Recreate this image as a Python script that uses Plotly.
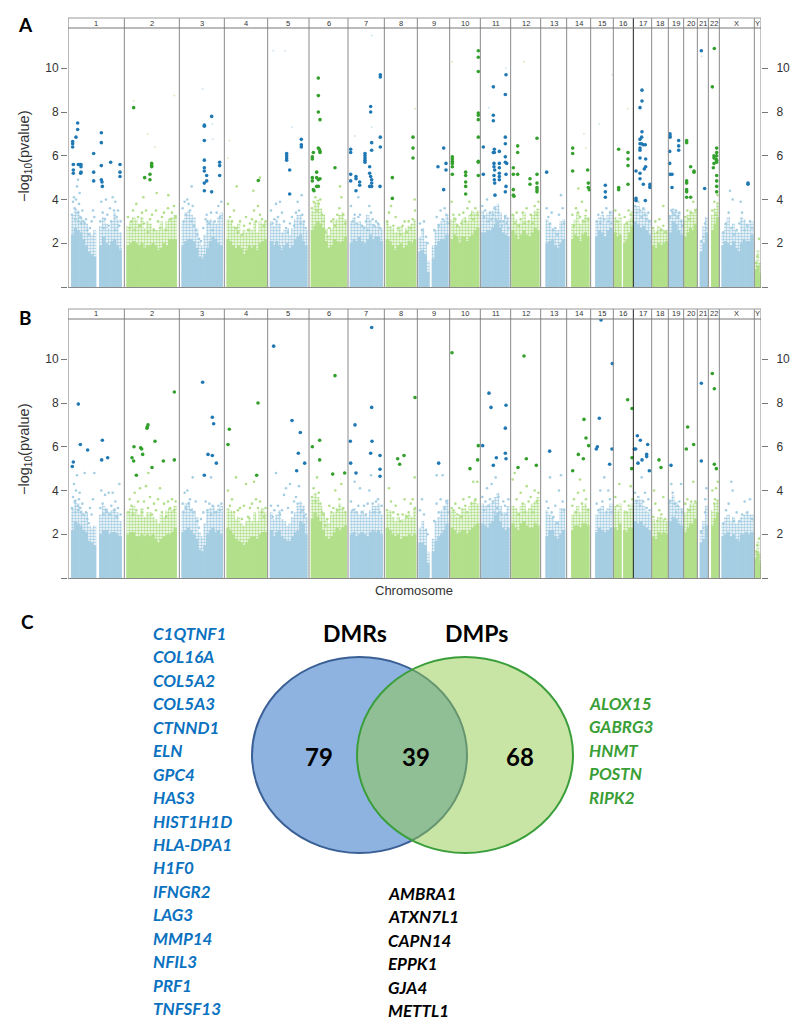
import plotly.graph_objects as go

W, H = 800, 1035
chrom_labels = ["1","2","3","4","5","6","7","8","9","10","11","12","13","14","15","16","17","18","19","20","21","22","X","Y"]
chrom_edges = [204,373,538,673,803,927,1044,1153,1252,1349,1441,1532,1622,1700,1772,1840,1900,1955,2005,2051,2092,2125,2158,2263,2283]
y_ticks = [2,4,6,8,10]

# body segments of the Manhattan columns: colour group, start, end
seg_group = ["b","b","g","b","g","b","g","b","g","b","b","g","b","g","b","g","b","g","g","b","g","b","g","b","g","b","g"]
seg_start = [214,298,380,545,680,810,933,1050,1158,1256,1296,1352,1444,1535,1637,1714,1786,1842,1870,1902,1957,2007,2053,2100,2134,2165,2265]
seg_end   = [288,365,530,668,800,922,1040,1148,1248,1288,1345,1437,1528,1618,1695,1768,1837,1864,1900,1952,2003,2049,2090,2123,2156,2260,2283]

A_heights = [
 [2.4,2.7,2.6,2.5,2.2,1.9,1.6,1.5,1.4],[1.9,2.3,2.0,1.9,2.1,2.2,1.9,1.7],
 [1.9,2.0,2.1,2.0,1.9,2.0,1.8,1.9,1.9,2.0,1.9,1.7,1.8,2.0,1.9,2.2,2.2,2.2],
 [1.9,2.1,2.2,2.2,2.1,1.8,1.4,1.3,1.5,1.8,2.1,2.3,2.2,2.0,1.9],
 [2.2,2.1,1.9,1.8,1.9,1.8,1.5,1.7,1.9,1.8,1.9,1.7,2.0,2.1,2.2],
 [2.1,1.9,2.1,1.9,1.7,1.9,2.0,1.8,1.9,2.2,2.3,2.4,2.1,1.9],
 [2.6,2.8,3.0,2.9,2.7,2.1,1.8,1.9,2.2,2.1,2.0,2.1,2.3],
 [2.0,2.2,2.1,2.3,2.1,2.0,2.2,2.4,2.2,2.3,2.3,2.1],
 [2.2,2.1,1.9,1.7,1.9,2.0,1.8,1.9,2.1,2.0,2.2],
 [1.6,1.7,1.5,0.7],[1.3,1.9,2.1,2.2,2.2,2.4],
 [2.2,2.4,2.3,2.0,2.3,2.3,2.1,2.3,2.4,2.6,2.7],
 [2.5,2.5,2.6,2.6,2.7,2.9,3.0,2.7,2.5,2.4,2.3],
 [2.6,2.4,2.2,2.4,2.6,2.4,2.3,2.5,2.7,2.6],
 [2.0,2.1,2.2,1.9,1.8,2.0,2.2],[2.2,2.4,2.3,2.1,2.4,2.5,2.3],
 [2.3,2.6,2.5,2.3,2.6,2.7],[2.5,2.3,2.4],[2.0,2.2,2.5,2.8],
 [3.0,2.9,2.7,2.8,2.6,2.4],[1.9,1.8,2.0,1.9,2.0,2.1],[2.5,3.0,2.9,2.6,2.4],
 [2.3,2.5,2.7,2.6,2.9],[1.6,2.0,2.5],[2.6,2.9,3.2],
 [1.9,2.1,2.0,1.9,2.1,1.8,1.6,2.0,2.2,2.1,2.1,2.4],[0.8,1.0,0.6]]
B_heights = [
 [2.2,2.6,2.5,2.4,2.2,2.1,1.7,1.6,1.5],[2.0,2.2,2.2,2.0,2.1,2.1,2.0,1.9],
 [2.0,2.1,2.1,1.9,1.9,2.0,1.9,2.0,1.9,2.0,1.8,1.6,1.8,1.9,2.0,2.0,2.1,2.3],
 [2.1,2.2,2.3,2.2,2.0,1.8,1.3,1.2,1.5,2.0,2.2,2.3,2.1,2.2,2.0],
 [2.3,2.2,2.0,1.8,1.7,1.6,1.5,1.6,1.8,1.9,1.9,1.8,2.0,2.1,2.1],
 [2.2,1.9,2.1,2.2,1.9,1.8,1.7,1.7,1.9,2.1,2.2,2.6,2.5,2.0],
 [2.7,3.0,2.8,2.6,2.2,1.9,1.8,1.9,2.1,2.3,2.2,2.3,2.4],
 [2.0,2.1,1.9,2.0,2.1,2.0,1.9,2.1,2.2,2.1,2.2,2.0],
 [2.3,2.2,2.0,1.9,2.0,1.8,1.9,1.9,2.0,1.9,2.0],
 [1.6,1.6,1.5,0.7],[1.2,1.7,1.9,2.0,2.2,2.5],
 [2.3,2.2,2.0,2.1,2.2,2.2,2.0,2.2,2.3,2.4,2.5],
 [2.5,2.4,2.3,2.5,2.6,2.9,3.0,2.6,2.3,2.2,2.3],
 [2.5,2.3,2.2,2.5,2.6,2.4,2.3,2.3,2.5,2.4],
 [1.9,2.2,2.2,1.9,1.8,2.0,2.2],[2.2,2.4,2.4,2.3,2.5,2.5,2.4],
 [2.1,2.3,2.2,2.1,2.2,2.3],[2.3,2.2,2.5],[2.2,2.1,2.3,2.3],
 [2.6,2.5,2.6,2.4,2.3,2.2],[1.9,1.8,2.1,2.0,2.1,2.0],[2.6,2.8,2.7,2.5,2.4],
 [2.1,2.3,2.5,2.5,2.7],[1.6,1.8,2.4],[2.4,2.7,3.0],
 [1.9,2.0,2.1,1.9,2.0,1.8,1.7,2.0,2.0,2.1,2.0,2.1],[0.9,1.2,0.7]]

# top of the dense speckled band that sits on each body
A_band = [
 [3.3,3.6,3.5,3.2,3.0,2.9,2.5,2.4,2.6],[2.8,3.2,2.9,2.7,3.0,3.4,3.1,2.5],
 [2.8,3.0,3.2,3.1,2.9,3.2,2.7,3.0,2.9,2.7,2.6,2.6,3.0,2.7,3.0,3.1,3.2,3.3],
 [3.0,3.4,3.5,3.3,3.2,2.7,2.1,1.9,2.4,3.0,3.1,3.0,2.9,3.2,3.4],
 [3.1,3.0,2.8,2.7,2.9,2.4,2.6,2.5,2.7,2.6,3.0,2.5,3.0,2.9,3.0],
 [3.0,2.8,3.1,2.9,2.5,2.6,2.7,2.4,2.7,3.1,3.3,3.3,3.0,2.6],
 [3.5,3.9,4.0,3.6,3.3,2.7,2.4,2.7,3.0,3.1,3.3,3.4,3.1],
 [3.0,3.2,2.9,3.0,2.8,2.8,3.3,3.1,2.9,2.8,2.9,2.7],
 [3.0,2.8,2.7,2.5,2.7,2.8,2.5,2.7,2.8,2.9,3.1],
 [2.3,2.7,2.1,1.2],[1.9,2.6,2.9,3.0,3.1,3.3],
 [3.1,3.2,2.9,2.8,3.1,3.2,3.0,3.3,3.5,3.4,3.5],
 [3.5,3.3,3.4,3.4,3.5,3.7,3.8,3.4,3.0,3.3,3.2],
 [3.3,3.1,2.9,3.0,3.4,3.0,3.0,3.3,3.5,3.6],
 [3.1,2.9,2.7,2.6,2.6,3.0,3.1],[2.9,3.1,3.4,2.9,3.1,3.3,3.2],
 [3.0,3.2,3.3,3.0,3.3,3.5],[3.2,3.0,3.2],[2.9,3.0,3.1,3.5],
 [3.7,3.7,3.5,3.6,3.4,3.1],[2.6,2.5,2.8,2.7,2.6,2.6],[3.3,3.6,3.5,3.4,3.1],
 [3.1,3.3,3.5,3.4,3.6],[2.1,2.8,3.2],[3.3,3.6,3.9],
 [2.5,2.9,3.2,2.6,2.9,2.6,2.5,3.2,3.1,2.9,2.9,3.0],[1.2,1.7,1.1]]
B_band = [
 [3.2,3.6,3.4,3.1,2.9,3.0,2.4,2.3,2.4],[2.9,3.3,3.2,3.0,3.1,3.2,3.0,2.6],
 [3.0,3.2,3.3,3.0,2.9,3.2,2.8,3.0,3.0,2.8,2.7,2.5,2.9,2.8,3.1,3.2,3.1,3.3],
 [3.1,3.4,3.5,3.2,3.1,2.8,2.1,1.9,2.5,3.1,3.2,3.3,3.1,3.2,3.3],
 [3.2,3.1,2.9,2.7,2.8,2.5,2.4,2.6,2.8,2.6,3.0,2.6,3.1,3.2,3.0],
 [3.0,2.7,2.9,3.1,2.7,2.6,2.4,2.5,2.8,3.0,3.3,3.5,3.3,2.8],
 [3.6,3.9,3.7,3.3,3.0,2.7,2.5,2.9,3.0,3.2,3.4,3.2,3.0],
 [3.1,3.2,3.0,2.9,3.1,2.9,2.8,3.1,3.3,3.3,3.4,2.9],
 [3.0,3.1,2.8,2.6,2.8,2.6,2.7,2.9,2.9,2.8,3.2],
 [2.3,2.6,2.2,1.2],[1.8,2.6,2.8,3.1,3.3,3.6],
 [3.1,3.1,2.8,2.9,3.2,3.2,2.9,3.3,3.5,3.6,3.4],
 [3.4,3.3,3.3,3.4,3.5,3.7,3.9,3.3,3.0,3.0,3.3],
 [3.3,3.2,3.0,3.3,3.4,3.1,3.2,3.4,3.5,3.7],
 [3.1,2.9,2.8,2.6,2.6,3.2,3.2],[2.9,3.1,3.3,3.0,3.3,3.4,3.2],
 [2.9,3.2,3.3,3.0,3.2,3.4],[3.3,3.1,3.4],[3.1,3.0,3.2,3.4],
 [3.6,3.6,3.6,3.3,3.1,3.0],[2.7,2.5,2.8,2.8,2.7,2.6],[3.6,3.8,3.5,3.3,3.2],
 [3.0,3.2,3.4,3.4,3.5],[2.2,2.6,3.3],[3.1,3.4,3.6],
 [2.5,2.8,2.9,2.6,2.8,2.5,2.6,2.8,2.9,3.0,2.9,2.9],[1.3,1.7,1.1]]

# scattered pale points above the body
A_pale_blue = [(216,3.3),(219,3.9),(222,4.1),(224,3.6),(226,3.1),(228,4.0),(231,4.6),(233,3.4),(235,3.0),(237,3.8),(239,4.3),(241,3.2),(243,2.9),(247,3.5),(250,3.0),(254,2.9),(258,3.1),(262,2.6),(266,2.4),(270,2.7),(275,3.0),(279,3.5),(283,3.2),(234,4.9),
(301,3.0),(304,3.9),(308,3.4),(311,2.7),(315,3.1),(318,4.0),(322,3.3),(326,2.8),(330,3.6),(334,3.0),(338,4.1),(342,3.5),(346,3.9),(350,3.2),(354,3.5),(358,2.8),(362,3.0),(345,2.6),
(548,3.6),(551,3.0),(554,3.9),(558,3.3),(562,4.0),(566,3.8),(570,3.5),(574,3.0),(578,3.7),(582,2.8),(587,2.6),(592,2.4),(597,2.2),(603,2.1),(610,2.7),(617,3.1),(622,3.0),(628,2.9),(633,3.4),(638,2.6),(644,3.0),(650,3.4),(655,3.7),(660,3.2),(664,3.9),(575,4.6),(620,3.3),
(813,3.5),(818,2.9),(823,3.1),(828,3.8),(834,3.2),(840,3.9),(846,3.4),(852,3.0),(858,2.7),(864,2.5),(870,2.9),(876,3.2),(882,2.8),(888,3.4),(893,3.9),(897,3.5),(902,2.9),(907,3.3),(912,3.0),(917,2.7),(905,4.2),
(1053,3.7),(1058,3.0),(1064,3.3),(1070,2.9),(1075,3.2),(1080,3.3),(1086,2.8),(1092,2.7),(1098,3.0),(1103,2.6),(1108,3.7),(1113,3.4),(1118,3.1),(1123,2.8),(1128,3.0),(1134,2.9),(1140,2.7),(1075,4.1),
(1260,2.9),(1266,2.6),(1272,3.0),(1278,2.3),(1283,2.0),(1303,2.6),(1310,3.2),(1316,2.8),(1322,3.5),(1328,3.1),(1334,3.6),(1339,3.3),(1343,2.9),
(1447,3.7),(1452,3.2),(1456,3.5),(1461,4.0),(1465,3.0),(1470,3.4),(1475,3.1),(1479,3.3),(1483,3.6),(1487,3.1),(1491,3.0),(1495,3.4),(1500,3.0),(1505,2.8),(1510,3.0),(1515,3.2),(1520,2.9),(1525,2.7),
(1640,3.6),(1645,3.2),(1650,2.9),(1655,3.4),(1660,2.6),(1666,2.7),(1672,2.4),(1677,3.3),(1683,4.2),(1688,3.6),(1692,2.9),
(1790,3.0),(1795,3.3),(1801,2.9),(1807,3.4),(1813,3.1),(1819,3.6),(1825,3.0),(1830,3.4),(1834,2.9),
(1905,3.7),(1910,3.4),(1915,3.9),(1920,3.5),(1925,3.2),(1930,3.6),(1935,3.3),(1940,3.1),(1945,3.4),(1949,3.0),
(2010,3.2),(2014,3.5),(2018,3.4),(2023,3.3),(2028,3.5),(2033,3.2),(2038,3.4),(2043,3.0),(2046,2.8),
(2104,2.1),(2110,2.3),(2115,2.9),(2119,2.7),
(2170,2.5),(2178,2.9),(2186,3.4),(2194,2.7),(2202,2.4),(2210,2.6),(2218,2.9),(2226,3.4),(2234,2.6),(2242,2.8),(2250,3.0),(2256,2.7),(2190,4.4),(2198,4.0),(2222,3.9)]
A_pale_green = [(384,3.2),(389,2.7),(394,3.0),(399,3.5),(404,2.6),(409,3.8),(414,3.2),(420,2.8),(426,3.4),(432,2.9),(438,3.5),(444,2.5),(450,3.1),(456,3.3),(462,2.6),(468,3.5),(474,3.0),(480,2.7),(486,3.2),(492,3.4),(498,2.6),(504,3.6),(510,3.1),(516,3.4),(522,3.7),(527,3.2),(430,4.1),(470,4.3),(505,4.2),
(684,3.8),(690,3.2),(696,3.0),(702,3.5),(708,2.7),(714,2.5),(720,3.0),(726,2.4),(732,2.8),(738,3.2),(744,2.6),(750,2.9),(756,3.1),(762,3.5),(768,3.0),(774,3.7),(780,3.3),(786,3.1),(792,2.8),(797,3.0),(710,4.6),(760,4.4),(780,5.0),
(936,3.6),(941,3.9),(946,4.1),(951,3.5),(956,3.8),(961,4.0),(966,3.3),(971,3.0),(976,2.5),(982,2.3),(988,2.7),(994,3.0),(1000,3.1),(1006,2.8),(1012,3.3),(1018,3.6),(1024,4.1),(1030,3.3),(1036,2.9),(1020,4.6),
(1161,3.0),(1167,3.4),(1173,3.7),(1180,2.8),(1187,3.2),(1194,2.7),(1201,2.4),(1208,2.8),(1214,3.0),(1220,2.5),(1226,3.0),(1232,2.7),(1238,3.1),(1244,4.0),(1245,3.5),
(1355,3.9),(1360,3.3),(1366,3.1),(1372,2.8),(1378,3.3),(1384,2.9),(1390,3.4),(1396,3.0),(1402,3.6),(1408,3.9),(1414,3.3),(1420,3.1),(1426,3.6),(1432,3.3),
(1538,3.3),(1544,2.9),(1550,3.4),(1556,2.8),(1562,3.1),(1568,3.4),(1574,2.9),(1580,3.6),(1586,3.0),(1592,3.3),(1598,2.9),(1604,3.7),(1610,3.3),(1615,3.9),
(1717,3.3),(1722,2.8),(1728,3.6),(1734,3.4),(1740,3.2),(1746,3.9),(1752,3.0),(1758,3.5),(1764,3.1),(1735,4.5),
(1846,3.5),(1852,3.0),(1858,3.3),(1874,3.2),(1880,2.9),(1886,3.5),(1892,3.3),(1897,3.0),
(1960,2.7),(1966,3.0),(1972,2.5),(1978,3.1),(1984,2.6),(1990,2.8),(1996,2.5),(1990,3.7),
(2056,3.2),(2062,3.5),(2068,3.1),(2074,3.4),(2080,3.9),(2086,3.5),
(2137,3.5),(2143,3.9),(2148,3.3),(2153,4.2),(2272,1.4),(2277,2.2),(2269,1.1)]
B_pale_blue = [(216,3.2),(219,3.7),(222,4.3),(224,3.5),(226,3.0),(228,4.0),(231,4.7),(233,3.3),(235,3.1),(237,3.6),(239,3.9),(241,3.2),(243,3.0),(247,3.4),(250,2.9),(254,4.8),(258,3.0),(262,2.7),(266,2.5),(270,3.2),(275,2.9),(279,3.6),(283,4.8),
(301,3.2),(304,4.0),(308,3.4),(311,2.9),(315,3.8),(318,3.1),(322,3.0),(326,3.9),(330,2.9),(334,3.3),(338,3.9),(342,3.1),(346,3.5),(350,2.8),(354,3.2),(358,4.3),(362,2.9),
(548,3.4),(551,3.0),(554,3.9),(558,3.2),(562,4.0),(566,3.4),(570,3.6),(574,3.1),(578,4.6),(582,3.0),(587,3.5),(592,2.6),(597,2.3),(603,2.7),(610,3.0),(617,3.5),(622,3.1),(628,3.4),(633,2.9),(638,3.3),(644,3.0),(650,3.0),(655,3.3),(660,3.1),(664,3.4),(633,4.6),
(813,3.3),(818,2.8),(823,3.1),(828,4.8),(834,3.3),(840,2.9),(846,3.1),(852,3.8),(858,4.1),(864,3.2),(870,4.3),(876,3.0),(882,3.5),(888,3.7),(893,3.4),(897,4.2),(902,3.0),(907,3.1),(912,2.8),(917,2.9),
(1053,3.5),(1058,3.1),(1064,4.4),(1070,3.0),(1075,3.3),(1080,4.1),(1086,3.0),(1092,3.3),(1098,2.9),(1103,3.4),(1108,4.0),(1113,4.7),(1118,3.4),(1123,3.0),(1128,3.5),(1134,3.6),(1140,3.0),(1145,3.3),
(1260,3.1),(1266,3.6),(1272,2.9),(1278,2.2),(1283,2.0),(1303,2.6),(1310,3.4),(1316,3.0),(1322,3.6),(1328,4.7),(1334,3.2),(1339,3.5),(1343,3.0),(1310,4.7),
(1447,3.7),(1452,3.1),(1456,3.5),(1461,4.1),(1465,3.3),(1470,3.6),(1475,4.3),(1479,3.5),(1483,3.0),(1487,4.6),(1491,3.2),(1495,3.7),(1500,3.0),(1505,2.9),(1510,3.5),(1515,3.3),(1520,2.9),(1525,3.6),
(1640,3.5),(1645,3.2),(1650,4.6),(1655,3.0),(1660,2.8),(1666,3.3),(1672,2.5),(1677,4.0),(1683,4.7),(1688,3.5),(1692,3.1),
(1790,3.4),(1795,3.1),(1801,4.0),(1807,3.5),(1813,4.6),(1819,3.0),(1825,4.0),(1830,3.6),(1834,3.0),
(1905,3.9),(1910,3.5),(1915,3.7),(1920,3.3),(1925,4.6),(1930,3.5),(1935,3.9),(1940,3.2),(1945,3.6),(1949,3.1),
(2010,3.5),(2014,4.3),(2018,3.9),(2023,3.4),(2028,3.0),(2033,3.3),(2038,3.5),(2043,4.3),(2046,3.0),
(2104,2.1),(2110,2.3),(2115,3.0),(2119,4.1),(2116,3.6),
(2170,2.5),(2178,3.1),(2186,3.4),(2194,4.4),(2198,4.0),(2202,2.6),(2210,3.0),(2218,2.6),(2226,2.9),(2234,3.5),(2242,3.0),(2250,3.6),(2256,2.7)]
B_pale_green = [(384,3.0),(389,3.6),(394,3.3),(399,2.9),(404,3.9),(409,3.1),(414,3.5),(420,4.1),(426,3.0),(432,3.5),(438,4.2),(444,3.2),(450,3.7),(456,2.9),(462,3.4),(468,3.1),(474,3.6),(480,4.1),(486,3.0),(492,3.4),(498,2.8),(504,3.5),(510,3.2),(516,3.6),(522,3.1),(527,3.5),(445,4.8),
(684,4.0),(690,3.3),(696,3.6),(702,3.0),(708,4.6),(714,3.1),(720,3.2),(726,2.7),(732,3.3),(738,4.3),(744,2.8),(750,3.2),(756,3.4),(762,4.4),(768,3.6),(774,3.2),(780,3.5),(786,3.0),(792,2.8),(797,3.2),
(936,3.7),(941,4.1),(946,3.5),(951,4.6),(956,3.9),(961,3.4),(966,3.0),(971,2.9),(976,2.4),(982,2.7),(988,3.3),(994,3.0),(1000,3.2),(1006,4.0),(1012,3.1),(1018,3.6),(1024,4.3),(1030,3.2),(1036,3.0),
(1161,3.1),(1167,4.1),(1173,3.5),(1180,3.0),(1187,3.3),(1194,2.9),(1201,2.6),(1208,2.9),(1214,3.6),(1220,2.8),(1226,3.0),(1232,3.4),(1238,3.6),(1244,4.6),(1245,3.2),
(1355,3.2),(1360,3.1),(1366,3.4),(1372,2.9),(1378,3.2),(1384,2.8),(1390,3.6),(1396,3.3),(1402,3.0),(1408,3.7),(1414,3.4),(1420,4.4),(1426,3.6),(1432,4.4),
(1538,4.5),(1544,4.8),(1550,3.6),(1556,2.9),(1562,3.9),(1568,3.4),(1574,3.0),(1580,4.2),(1586,3.5),(1592,3.7),(1598,3.0),(1604,4.0),(1610,3.5),(1615,3.9),
(1717,3.3),(1722,3.6),(1728,3.0),(1734,3.9),(1740,4.5),(1746,3.4),(1752,4.0),(1758,3.6),(1764,3.1),
(1846,3.7),(1852,3.3),(1858,4.3),(1874,3.5),(1880,3.0),(1886,3.3),(1892,4.2),(1897,3.6),
(1960,2.8),(1966,3.4),(1972,2.6),(1978,3.1),(1984,2.9),(1990,3.7),(1996,2.7),(1962,4.0),
(2056,3.4),(2062,3.6),(2068,3.1),(2074,3.5),(2080,4.4),(2086,3.5),
(2137,4.0),(2143,3.4),(2148,4.1),(2153,4.4),(2145,3.6),(2272,1.5),(2277,1.8),(2269,1.2)]

# the hits of panel B also show very faintly in panel A
A_faint_blue = [(820,10.8),(855,10.8),(608,9.05),(637,7.45),(638,6.75),(876,7.3),(1115,11.5),(1115,7.3),(1065,6.9),(1467,8.2),(1518,10.0),(1837,9.7),(1798,7.45),(2105,10.55)]
A_faint_green = [(401,8.5),(523,8.75),(443,7.0),(465,6.4),(688,6.7),(684,5.9),(1245,8.15),(1356,10.3),(1572,10.3),(1752,7.0),(1758,6.35),(1883,8.15)]

A_hit_blue = [(218,6.65),(218,6.55),(218,6.4),(228,6.85),(233,7.5),(233,7.2),(220,5.6),(220,5.35),(220,5.2),(242,5.2),(243,5.25),(235,5.6),(240,5.6),(243,5.6),(243,5.5),(281,6.1),(281,5.25),(281,4.85),(304,7.05),(304,6.6),(304,5.55),(304,4.9),(306,4.8),(307,4.6),(332,5.7),(360,5.6),(360,5.25),(360,5.05),
(613,7.4),(613,7.35),(635,7.8),(613,6.7),(613,5.8),(613,5.45),(613,5.3),(620,5.1),(620,4.85),(613,4.75),(613,4.4),(635,4.35),(659,5.7),(659,5.55),(659,5.1),
(860,6.1),(860,6.0),(860,5.9),(860,5.8),(869,5.35),(869,4.25),(904,6.75),(904,6.5),(904,6.4),
(1052,6.3),(1052,6.15),(1095,6.1),(1095,6.0),(1095,5.9),(1095,5.8),(1095,5.7),(1052,5.15),(1052,4.85),(1068,5.05),(1068,4.95),(1068,4.4),(1079,4.8),(1079,4.65),(1112,8.25),(1112,8.0),(1115,6.6),(1115,6.25),(1109,5.5),(1109,5.2),(1112,5.05),(1115,4.9),(1115,4.75),(1115,4.6),(1109,4.6),(1141,9.7),(1141,9.6),(1141,6.85),(1141,6.4),(1140,4.6),
(1314,5.5),(1331,6.35),(1338,5.65),(1338,5.35),(1331,4.45),
(1450,6.4),(1450,5.15),(1480,9.15),(1480,7.85),(1480,7.6),(1480,6.15),(1483,6.3),(1483,6.15),(1498,6.2),(1482,5.65),(1482,5.5),(1484,5.35),(1482,5.1),(1483,4.9),(1484,4.75),(1498,5.65),(1498,5.45),(1498,5.2),(1498,5.05),(1498,4.9),(1485,4.2),(1518,9.7),(1516,8.8),(1516,6.85),(1516,6.55),(1516,5.95),(1516,5.7),(1520,5.65),(1518,5.15),(1518,4.6),(1516,4.35),
(1640,5.25),(1816,4.65),(1816,4.35),(1816,4.1),
(1926,9.0),(1926,8.5),(1920,8.2),(1926,7.1),(1925,6.85),(1920,6.75),(1920,6.55),(1925,6.55),(1930,6.5),(1936,6.5),(1920,6.35),(1920,6.25),(1920,5.9),(1937,5.85),(1937,5.5),(1933,5.4),(1908,5.3),(1920,5.2),(1920,4.95),(1930,4.7),(1908,4.05),(1908,3.95),(1936,3.95),(1950,4.7),(1950,4.6),(1950,4.55),
(2010,7.0),(2010,6.9),(2010,6.85),(2009,6.2),(2036,6.7),(2036,6.45),(2036,6.25),(2009,5.65),(2010,5.15),(2016,5.15),(2016,4.55),
(2104,10.8),(2114,4.5),(2244,4.75),(2244,4.7)]
A_hit_green = [(401,8.2),(434,5.0),(450,5.15),(450,4.9),(455,5.65),(455,5.55),(455,5.5),(775,4.87),
(955,9.55),(955,8.75),(955,8.0),(960,7.65),(955,6.35),(958,6.3),(960,6.2),(960,6.15),(940,6.15),(937,5.95),(937,5.85),(950,5.25),(937,5.0),(937,4.85),(950,5.0),(955,4.9),(960,4.95),(950,4.6),(955,4.6),(940,4.45),(942,4.4),(1005,5.45),
(1177,5.0),(1177,4.05),(1239,6.85),(1239,6.35),(1239,5.9),
(1357,5.95),(1357,5.85),(1357,5.75),(1357,5.65),(1357,5.5),(1357,5.15),(1397,5.25),(1397,5.1),(1397,4.8),(1397,4.6),(1397,4.25),(1435,10.8),(1435,10.5),(1435,9.85),(1435,7.95),(1435,7.85),(1435,7.65),(1435,6.85),(1435,5.75),(1435,5.7),(1435,5.1),
(1540,5.45),(1540,5.15),(1540,4.45),(1540,4.2),(1542,4.15),(1553,6.45),(1553,6.15),(1553,5.15),(1590,4.95),(1590,4.7),(1611,6.8),(1611,5.15),(1611,4.75),(1611,4.55),(1611,4.45),(1611,4.35),
(1718,6.35),(1718,6.1),(1718,5.3),(1763,5.35),(1765,4.75),(1765,4.55),(1768,4.45),
(1856,6.3),(1884,6.15),(1884,5.85),(1884,5.55),(1884,4.7),(1856,4.55),(1856,4.45),
(2060,6.7),(2060,6.6),(2072,5.5),(2082,5.3),(2082,5.25),(2060,4.85),(2060,4.75),(2060,4.45),(2060,4.35),(2060,4.1),(2072,4.1),
(2143,10.9),(2137,9.15),(2150,6.35),(2150,6.15),(2142,6.0),(2150,6.0),(2142,5.9),(2148,5.85),(2150,5.8),(2142,5.65),(2150,5.7),(2140,5.45),(2150,5.1),(2150,4.85),(2150,4.6),(2150,4.35)]
B_hit_blue = [(217,5.1),(220,5.3),(235,7.95),(241,6.1),(263,5.85),(307,6.3),(305,5.4),(323,5.5),
(608,8.95),(637,7.35),(641,7.05),(624,5.65),(637,5.6),(649,5.25),(613,4.7),
(821,10.6),(876,7.2),(901,6.65),(895,5.7),(914,5.25),(890,4.9),
(1115,11.45),(1115,7.8),(1065,7.0),(1051,6.25),(1116,6.25),(1052,5.25),(1068,4.8),(1112,5.7),(1140,5.6),(1140,4.97),(1140,4.65),
(1316,5.25),(1448,6.05),(1467,8.45),(1473,7.8),(1518,7.9),(1516,6.85),(1516,5.7),(1518,5.45),(1489,5.5),(1480,5.15),
(1649,5.8),(1803,11.8),(1837,9.8),(1798,7.3),(1792,6.0),(1789,5.9),(1836,5.9),(1829,5.2),
(1912,6.5),(1921,6.3),(1943,6.1),(1903,5.9),(1907,5.9),(1940,5.65),(1940,5.55),(1926,5.4),(1914,5.25),(1948,4.9),
(2013,5.15),(2104,8.9),(2104,5.35)]
B_hit_green = [(396,5.5),(401,5.35),(402,6.0),(409,4.7),(422,5.95),(425,5.9),(428,5.65),(441,6.85),(444,7.0),(442,6.9),(465,6.25),(456,5.05),(490,5.35),(523,8.5),(523,5.4),
(688,6.8),(684,6.1),(774,8.0),(770,4.7),
(937,6.0),(959,6.3),(959,5.4),(1005,9.25),(998,4.75),(1034,4.8),
(1193,5.45),(1199,5.2),(1212,5.6),(1245,8.25),
(1356,10.3),(1410,5.0),(1433,5.4),(1435,6.05),
(1572,10.15),(1554,5.05),(1579,5.45),(1609,5.15),
(1752,7.25),(1758,6.4),(1766,6.05),(1735,5.65),(1750,5.45),(1718,4.9),
(1883,8.15),(1896,7.75),(1896,5.5),(1895,5.0),
(1977,5.4),(1983,5.05),(2063,6.9),(2081,6.1),(2059,5.9),
(2137,9.35),(2143,8.65),(2143,5.2),(2149,5.0)]

genes_blue = ["C1QTNF1","COL16A","COL5A2","COL5A3","CTNND1","ELN","GPC4","HAS3","HIST1H1D","HLA-DPA1","H1F0","IFNGR2","LAG3","MMP14","NFIL3","PRF1","TNFSF13"]
genes_green = ["ALOX15","GABRG3","HNMT","POSTN","RIPK2"]
genes_black = ["AMBRA1","ATXN7L1","CAPN14","EPPK1","GJA4","METTL1"]
venn_counts = [79, 39, 68]
venn_names = ["DMRs", "DMPs"]

PALE_BLUE, PALE_GREEN = "#a6cee3", "#b2df8a"
HIT_BLUE, HIT_GREEN = "#1f78b4", "#33a02c"
GRID = "#8a8a8a"
SANS = "Liberation Sans, Arial, sans-serif"
LATO = "Lato, Noto Sans, sans-serif"

def px(x): return x / W
def py(y): return 1 - y / H
def xs(p): return [a for a, _ in p]
def ys(p): return [b for _, b in p]

def body(heights, group):
    x, y, w = [], [], []
    for g, s, e, hs in zip(seg_group, seg_start, seg_end, heights):
        if g != group:
            continue
        step = (e - s) / len(hs)
        for i, h in enumerate(hs):
            x.append(s + step * (i + 0.5)); y.append(h); w.append(step + 1.6)
    return x, y, w

fig = go.Figure()

def panel(xa, ya, yr, heights, band, pale_b, pale_g, hit_b, hit_g, faint_b=None, faint_g=None):
    for g, c in (("b", PALE_BLUE), ("g", PALE_GREEN)):
        x, y, w = body(band, g)
        fig.add_trace(go.Bar(x=x, y=y, width=w, opacity=1,
                             marker=dict(color="white", line=dict(width=0),
                                         pattern=dict(shape=".", fgcolor=c, bgcolor="white", size=3, solidity=0.55, fillmode="replace")),
                             xaxis=xa, yaxis=ya, showlegend=False))
    for g, c in (("b", PALE_BLUE), ("g", PALE_GREEN)):
        x, y, w = body(heights, g)
        fig.add_trace(go.Bar(x=x, y=y, width=w, marker=dict(color=c, line=dict(width=0)), xaxis=xa, yaxis=ya, showlegend=False))
    for p, c in ((pale_b, PALE_BLUE), (pale_g, PALE_GREEN)):
        fig.add_trace(go.Scatter(x=xs(p), y=ys(p), mode="markers", marker=dict(color=c, size=2.6), xaxis=xa, yaxis=ya, showlegend=False))
    # faint traces (or nothing) go on the right-hand axis so that it is drawn
    fb = faint_b or []
    fg = faint_g or []
    fig.add_trace(go.Scatter(x=xs(fb), y=ys(fb), mode="markers", marker=dict(color=PALE_BLUE, size=2, opacity=0.5), xaxis=xa, yaxis=yr, showlegend=False))
    fig.add_trace(go.Scatter(x=xs(fg) or [204], y=ys(fg) or [0], mode="markers", marker=dict(color=PALE_GREEN, size=2, opacity=0.5 if fg else 0), xaxis=xa, yaxis=yr, showlegend=False))
    for p, c in ((hit_b, HIT_BLUE), (hit_g, HIT_GREEN)):
        fig.add_trace(go.Scatter(x=xs(p), y=ys(p), mode="markers", marker=dict(color=c, size=3.6), xaxis=xa, yaxis=ya, showlegend=False))

panel("x", "y", "y3", A_heights, A_band, A_pale_blue, A_pale_green, A_hit_blue, A_hit_green, A_faint_blue, A_faint_green)
panel("x2", "y2", "y4", B_heights, B_band, B_pale_blue, B_pale_green, B_hit_blue, B_hit_green)

xdom = [px(68), px(761)]
A_top, A_bot, A_strip = 28, 287, 18
B_top, B_bot, B_strip = 319, 578, 309
common_y = dict(range=[0, 11.84], tickvals=y_ticks, ticks="outside", ticklen=6, tickcolor="#777777", tickwidth=1,
                minor=dict(tickvals=[0], ticks="outside", ticklen=6, tickcolor="#777777", tickwidth=1),
                tickfont=dict(family=SANS, size=12, color="#333333"), showgrid=False, zeroline=False, showline=False)
common_x = dict(range=[204, 2283], showticklabels=False, ticks="", showgrid=False, zeroline=False, showline=True, linecolor="#8a8a8a", linewidth=1)
layout = dict(width=W, height=H, margin=dict(l=0, r=0, t=0, b=0), paper_bgcolor="white", plot_bgcolor="white", barmode="overlay", showlegend=False,
    xaxis=dict(domain=xdom, anchor="y", **common_x),
    xaxis2=dict(domain=xdom, anchor="y2", **common_x),
    yaxis=dict(domain=[py(A_bot), py(A_top)], anchor="x", side="left", **common_y),
    yaxis2=dict(domain=[py(B_bot), py(B_top)], anchor="x2", side="left", **common_y),
    yaxis3=dict(domain=[py(A_bot), py(A_top)], anchor="x", overlaying="y", side="right", ticklabelstandoff=6, **common_y),
    yaxis4=dict(domain=[py(B_bot), py(B_top)], anchor="x2", overlaying="y2", side="right", ticklabelstandoff=6, **common_y))

shapes, ann = [], []
def line(x0, y0, x1, y1, color=GRID, width=1, xref="paper", yref="paper"):
    shapes.append(dict(type="line", x0=x0, y0=y0, x1=x1, y1=y1, xref=xref, yref=yref, line=dict(color=color, width=width), layer="above"))

for xa, top, bot, strip in (("x", A_top, A_bot, A_strip), ("x2", B_top, B_bot, B_strip)):
    for i, e in enumerate(chrom_edges):
        if i == 0:
            line(e, py(bot), e, py(strip), "#a8a8a8", 1.6, xref=xa)
        else:
            col = "#222222" if chrom_labels[i - 1] == "16" else GRID
            line(e, py(bot), e, py(strip), col, 1, xref=xa)
    line(px(68), py(top), px(761), py(top), "#777777", 1)
    line(px(68), py(strip), px(761), py(strip), "#9a9a9a", 1)
    for i, lab in enumerate(chrom_labels):
        ann.append(dict(x=(chrom_edges[i] + chrom_edges[i + 1]) / 2, y=py((top + strip) / 2), xref=xa, yref="paper", text=lab, showarrow=False,
                        font=dict(family=SANS, size=7.5, color="#333333"), xanchor="center", yanchor="middle"))

def text(x, y, s, size, color="black", family=LATO, xanchor="center", angle=0):
    ann.append(dict(x=px(x), y=py(y), xref="paper", yref="paper", text=s, showarrow=False, xanchor=xanchor, yanchor="middle",
                    textangle=angle, font=dict(family=family, size=size, color=color)))

minus_log = "\u2212log<sub>10</sub>(pvalue)"
text(25, 157, minus_log, 14.5, "#333333", SANS, angle=-90)
text(25, 450, minus_log, 14.5, "#333333", SANS, angle=-90)
text(414, 590, "Chromosome", 13, "#333333", SANS)
text(25, 24, "<b>A</b>", 19, xanchor="center", family=LATO)
text(25, 317, "<b>B</b>", 19, xanchor="center", family=LATO)
text(27, 621, "<b>C</b>", 19, xanchor="center", family=LATO)

shapes.append(dict(type="circle", xref="paper", yref="paper", x0=px(252), x1=px(467), y0=py(853), y1=py(657),
                   fillcolor="#8eb3e1", line=dict(color="#3a5f95", width=2), layer="above"))
shapes.append(dict(type="circle", xref="paper", yref="paper", x0=px(357), x1=px(573), y0=py(853), y1=py(657),
                   fillcolor="rgba(145,203,75,0.5)", line=dict(color="#3a9e3a", width=2), layer="above"))
for n, x in zip(venn_names, (355, 477)):
    text(x, 633, f"<b>{n}</b>", 23)
for n, x in zip(venn_counts, (319, 416, 520)):
    text(x, 756, f"<b>{n}</b>", 24)

for i, g in enumerate(genes_blue):
    text(151, 633.5 + i * 23.44, f"<b><i>{g}</i></b>", 17, "#0b72c0", xanchor="left")
for i, g in enumerate(genes_green):
    text(587, 703.5 + i * 23.4, f"<b><i>{g}</i></b>", 17, "#3a9e36", xanchor="left")
for i, g in enumerate(genes_black):
    text(386, 893.5 + i * 23.44, f"<b><i>{g}</i></b>", 17, "black", xanchor="left")

fig.update_layout(shapes=shapes, annotations=ann, **layout)
fig.write_html("out.html", config=dict(displayModeBar=False), post_script="document.body.style.margin='0';")
